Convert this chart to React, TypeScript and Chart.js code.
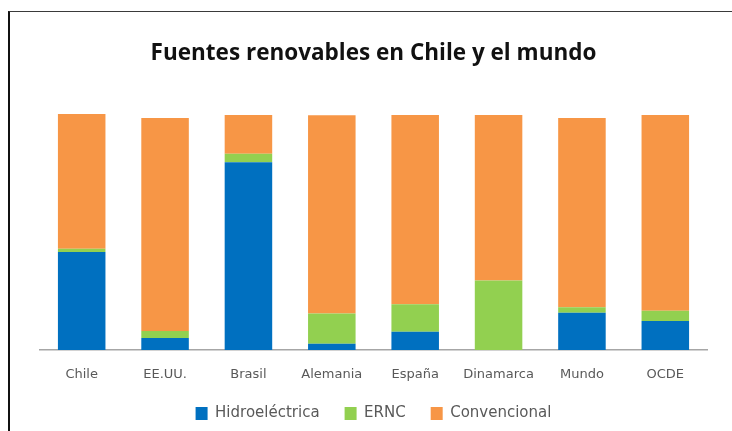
import React, { useEffect, useRef } from "react";
import { Chart, registerables } from "chart.js";

Chart.register(...registerables);

const categories = ["Chile", "EE.UU.", "Brasil", "Alemania", "España", "Dinamarca", "Mundo", "OCDE"];
const hidroelectrica = [41.5, 5.1, 79.6, 2.7, 7.7, 0, 15.8, 12.3];
const ernc = [1.4, 2.9, 3.6, 12.8, 11.7, 29.4, 2.3, 4.3];
const convencional = [57.1, 90.3, 16.4, 84.0, 80.2, 70.2, 80.2, 83.0];
const seriesNames = ["Hidroeléctrica", "ERNC", "Convencional"];
const seriesColors = ["#0070C0", "#92D050", "#F79646"];
const titleText = "Fuentes renovables en Chile y el mundo";

export default function App() {
  const ref = useRef<HTMLCanvasElement>(null);
  useEffect(() => {
    if (!ref.current) return;
    const values = [hidroelectrica, ernc, convencional];
    const chart = new Chart(ref.current, {
      type: "bar",
      data: {
        labels: categories,
        datasets: values.map((v, i) => ({
          label: seriesNames[i],
          data: v,
          backgroundColor: seriesColors[i],
          borderWidth: 0,
          categoryPercentage: 1,
          barPercentage: 0.57,
        })),
      },
      options: {
        responsive: false,
        animation: false,
        layout: { padding: { left: 40, right: 25, top: 0, bottom: 0 } },
        plugins: {
          title: {
            display: true,
            text: titleText,
            color: "#111111",
            font: { family: "Open Sans", size: 22.5, weight: "bold" },
            padding: { top: 40, bottom: 47 },
          },
          legend: {
            position: "bottom",
            labels: {
              color: "#595959",
              font: { family: "DejaVu Sans", size: 15 },
              boxWidth: 12,
              boxHeight: 13,
              padding: 25,
            },
          },
          tooltip: { enabled: false },
        },
        scales: {
          x: {
            stacked: true,
            grid: { display: false, drawTicks: false },
            border: { display: true, color: "#A6A6A6", width: 1.5 },
            ticks: { color: "#595959", font: { family: "DejaVu Sans", size: 13 }, padding: 16.7, maxRotation: 0 },
            afterFit: (s: any) => { s.height = 31; },
          },
          y: {
            stacked: true,
            display: false,
            min: 0,
            max: 100,
          },
        },
      },
    });
    return () => chart.destroy();
  }, []);
  return (
    <div style={{ position: "fixed", left: 0, top: 0, width: 732, height: 431, background: "#fff" }}>
      <canvas ref={ref} width={732} height={431} style={{ position: "absolute", left: 0, top: 0 }} />
      <div style={{ position: "absolute", left: 8, top: 11, width: 724, height: 420, borderLeft: "2px solid #111", borderTop: "1.5px solid #3a3a3a", pointerEvents: "none" }} />
    </div>
  );
}
